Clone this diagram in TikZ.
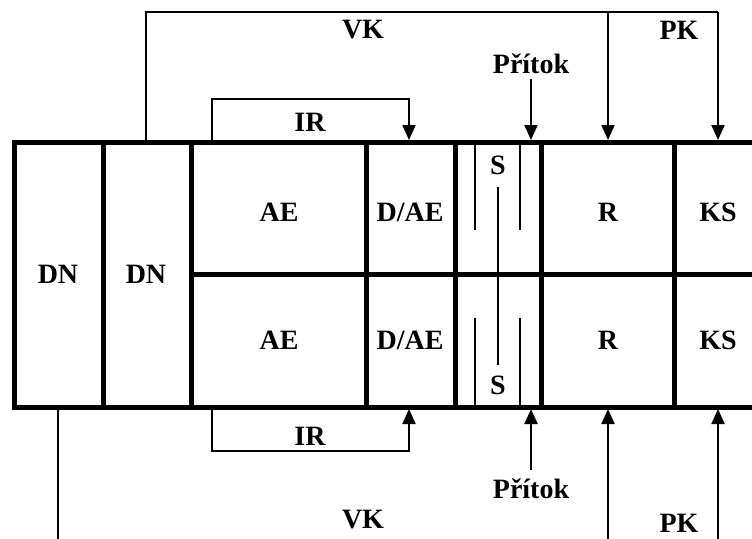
\documentclass[tikz,border=0pt]{standalone}
\usepackage{fontspec}
\setmainfont{Liberation Serif}
\usetikzlibrary{arrows.meta}
\begin{document}
\begin{tikzpicture}[x=1pt,y=-1pt,
  wall/.style={line width=5pt, line join=miter},
  thinline/.style={line width=2pt},
  flow/.style={line width=2pt,-{Triangle[length=15pt,width=13pt]}},
  lbl/.style={font=\bfseries\fontsize{28}{28}\selectfont, inner sep=0pt}]
\useasboundingbox (0,0) rectangle (752,538);
% walls
\draw[wall] (760,142) -- (14,142) -- (14,407) -- (760,407);
\foreach \x in {103,191,366,455,541,674} \draw[wall] (\x,142) -- (\x,407);
\draw[wall] (191,274) -- (760,274);
% settling tank baffles
\draw[thinline] (475,142) -- (475,230);
\draw[thinline] (520,142) -- (520,230);
\draw[thinline] (498,187) -- (498,365);
\draw[thinline] (475,318) -- (475,407);
\draw[thinline] (520,318) -- (520,407);
% labels
\node[lbl] (dn1) at (58,274) {DN};
\node[lbl] (dn2) at (146,274) {DN};
\node[lbl] (ae1) at (279,212) {AE};
\node[lbl] (ae2) at (279,340) {AE};
\node[lbl] (dae1) at (410,212) {D/AE};
\node[lbl] (dae2) at (410,340) {D/AE};
\node[lbl] (s1) at (498,165) {S};
\node[lbl] (s2) at (498,385) {S};
\node[lbl] (r1) at (608,212) {R};
\node[lbl] (r2) at (608,340) {R};
\node[lbl] (ks1) at (718,212) {KS};
\node[lbl] (ks2) at (718,340) {KS};
\node[lbl] (irt) at (310,122) {IR};
\node[lbl] (irb) at (310,436) {IR};
\node[lbl] (vkt) at (363,30) {VK};
\node[lbl] (pkt) at (679,30) {PK};
\node[lbl] (vkb) at (363,520) {VK};
\node[lbl] (pkb) at (679,523) {PK};
\node[lbl] (pt) at (531,64) {Přítok};
\node[lbl] (pb) at (531,489) {Přítok};
% coordinates
\coordinate (irTs) at (212,142); \coordinate (irTe) at (409,140);
\coordinate (irBs) at (212,407); \coordinate (irBe) at (409,409);
\coordinate (vkTs) at (146,142); \coordinate (vkTc) at (718,12);
\coordinate (vkTr) at (608,12);
\coordinate (rT) at (608,140); \coordinate (ksT) at (718,140);
\coordinate (pT) at (531,79); \coordinate (pTe) at (531,140);
\coordinate (pB) at (531,470); \coordinate (pBe) at (531,409);
\coordinate (vkBs) at (58,409); \coordinate (vkBe) at (58,545);
\coordinate (rBs) at (608,545); \coordinate (rB) at (608,409);
\coordinate (ksBs) at (718,545); \coordinate (ksB) at (718,409);
% connectors
\draw[flow] (irTs) |- (409,99) -- (irTe);
\draw[flow] (irBs) |- (409,451) -- (irBe);
\draw[thinline] (vkTs) |- (vkTc);
\draw[flow] (vkTr) -- (rT);
\draw[flow] (vkTc) -- (ksT);
\draw[flow] (pT) -- (pTe);
\draw[flow] (pB) -- (pBe);
\draw[thinline] (vkBs) -- (vkBe);
\draw[flow] (rBs) -- (rB);
\draw[flow] (ksBs) -- (ksB);
\end{tikzpicture}
\end{document}
